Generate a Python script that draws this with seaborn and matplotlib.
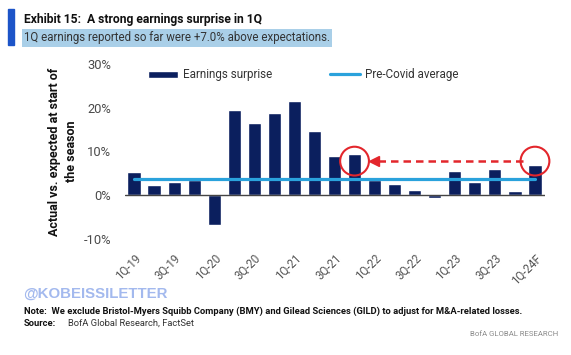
import matplotlib
matplotlib.use('Agg')
import matplotlib.pyplot as plt
from matplotlib.patches import Rectangle
import seaborn as sns
import pandas as pd

quarters = ['1Q-19', '2Q-19', '3Q-19', '4Q-19', '1Q-20', '2Q-20', '3Q-20', '4Q-20',
            '1Q-21', '2Q-21', '3Q-21', '4Q-21', '1Q-22', '2Q-22', '3Q-22', '4Q-22',
            '1Q-23', '2Q-23', '3Q-23', '4Q-23', '1Q-24F']
surprise = [5.4, 2.4, 3.0, 3.5, -6.9, 19.5, 16.6, 18.8, 21.5, 14.8, 9.0, 9.5,
            3.5, 2.5, 1.2, -0.6, 5.5, 3.1, 5.9, 0.9, 7.0]
pre_covid_avg = 3.7
highlight = ['4Q-21', '1Q-24F']
arrow_level = 7.8
y_ticks = [-10, 0, 10, 20, 30]

NAVY = '#0b1f5e'
LIGHT = '#2aa2dc'
RED = '#e3262c'
W, H = 571, 355

sns.set_style('white')
plt.rcParams['font.family'] = ['Roboto', 'DejaVu Sans']

df = pd.DataFrame({'quarter': quarters, 'surprise': surprise})
n = len(quarters)

fig = plt.figure(figsize=(W / 100, H / 100), dpi=100)
ax = fig.add_axes([125 / W, 1 - 239 / H, 420 / W, 175 / H])

sns.barplot(data=df, x='quarter', y='surprise', color=NAVY, saturation=1,
            width=0.66, ax=ax, label='Earnings surprise', zorder=2)
ax.plot(range(n), [pre_covid_avg] * n, color=LIGHT, lw=2.3,
        label='Pre-Covid average', zorder=4)
ax.axhline(0, color='#444444', lw=1, zorder=3)

# highlight circles and dashed arrow
i0, i1 = quarters.index(highlight[0]), quarters.index(highlight[1])
ax.scatter([i0, i1], [arrow_level] * 2, s=430, facecolors='none',
           edgecolors=RED, linewidths=1.5, zorder=6, clip_on=False)
ax.plot([i1 - 0.6, i0 + 1.1], [arrow_level] * 2, color=RED, lw=1.8,
        dashes=(3, 2), zorder=6)
ax.plot([i0 + 0.95], [arrow_level], marker='<', ms=7, color=RED, zorder=6)

ax.set_xlim(-0.45, n - 0.5)
ax.set_ylim(-10, 30)
ax.set_yticks(y_ticks)
ax.set_yticklabels([f'{v}%' for v in y_ticks], fontsize=9.3, color='#4a4a4a')
ax.set_xticks(range(0, n, 2))
ax.set_xticklabels(quarters[::2], rotation=45, ha='right',
                   rotation_mode='anchor', fontsize=8.3, color='#555555')
ax.tick_params(axis='both', length=0)
ax.tick_params(axis='y', pad=10)
ax.tick_params(axis='x', pad=9)
ax.set_xlabel('')
ax.set_ylabel('Actual vs. expected at start of\nthe season', fontsize=9,
              fontweight='bold', linespacing=1.45, labelpad=4, color='#111111')
sns.despine(ax=ax, left=True, bottom=True)

handles, labels = ax.get_legend_handles_labels()
order = [labels.index('Earnings surprise'), labels.index('Pre-Covid average')]
ax.legend([handles[i] for i in order], [labels[i] for i in order],
          ncol=2, frameon=False, loc='upper left', bbox_to_anchor=(0.03, 1.035),
          handlelength=2.6, handleheight=0.6, handletextpad=0.35,
          columnspacing=5.0, fontsize=8.4, labelcolor='#333333')

# header
fig.add_artist(Rectangle((8 / W, 1 - 45 / H), 6 / W, 36 / H,
                         color='#1c54c8', transform=fig.transFigure))
fig.text(24 / W, 1 - 20 / H, 'Exhibit 15:  A strong earnings surprise in 1Q',
         fontsize=8.7, fontweight='bold', va='center', color='#111111')
fig.text(24 / W, 1 - 38 / H,
         '1Q earnings reported so far were +7.0% above expectations.',
         fontsize=8.3, va='center', color='#333333',
         bbox=dict(facecolor='#a9cfe8', edgecolor='none', pad=1.5))

# footer
fig.text(23 / W, 1 - 294 / H, '@KOBEISSILETTER', fontsize=10.8,
         fontweight='bold', va='center', color='#a3b9ee',
         family=['Liberation Sans', 'DejaVu Sans'])
fig.text(24 / W, 1 - 311 / H,
         'Note:  We exclude Bristol-Myers Squibb Company (BMY) and Gilead Sciences '
         '(GILD) to adjust for M&A-related losses.',
         fontsize=6.75, fontweight='bold', va='center', color='#111111')
fig.text(24 / W, 1 - 323 / H, 'Source:', fontsize=6.75, fontweight='bold',
         va='center', color='#111111')
fig.text(68 / W, 1 - 323 / H, 'BofA Global Research, FactSet', fontsize=6.75,
         va='center', color='#333333')
fig.text(558 / W, 1 - 334 / H, 'BofA GLOBAL RESEARCH', fontsize=5.6,
         ha='right', va='center', color='#8a8a8a')

fig.savefig('out.png', dpi=100)
